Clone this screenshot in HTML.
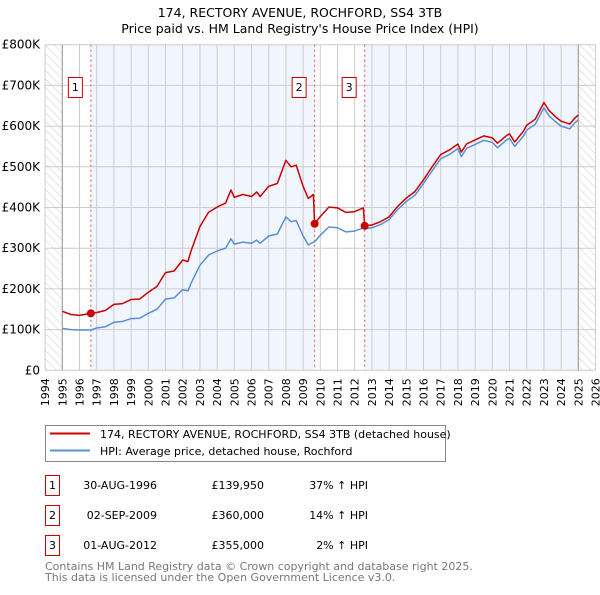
<!DOCTYPE html>
<html><head><meta charset="utf-8"><style>
body{margin:0;background:#fff;}
svg text{font-family:"DejaVu Sans","Liberation Sans",sans-serif;}
</style></head><body>
<svg id="chart" width="600" height="590" viewBox="0 0 600 590" xmlns="http://www.w3.org/2000/svg">
<defs>
<pattern id="hatch" patternUnits="userSpaceOnUse" width="6" height="6" patternTransform="rotate(-45)">
<line x1="0" y1="0" x2="0" y2="6" stroke="#ccc" stroke-width="1"/>
</pattern>
</defs>
<text x="300" y="17" text-anchor="middle" font-size="12.5">174, RECTORY AVENUE, ROCHFORD, SS4 3TB</text>
<text x="300" y="33" text-anchor="middle" font-size="12.5">Price paid vs. HM Land Registry's House Price Index (HPI)</text>
<g id="plot"></g>
<g id="legend">
<rect x="45.5" y="425.5" width="400" height="36" fill="#fff" stroke="#888"/>
<line x1="50" y1="433.5" x2="90" y2="433.5" stroke="#cc0000" stroke-width="2"/>
<text x="100" y="438" font-size="11">174, RECTORY AVENUE, ROCHFORD, SS4 3TB (detached house)</text>
<line x1="50" y1="450.5" x2="90" y2="450.5" stroke="#5b8fd4" stroke-width="2"/>
<text x="100" y="455" font-size="11">HPI: Average price, detached house, Rochford</text>
</g>
<g id="table" font-size="11">
<rect x="45.5" y="475.5" width="14" height="20" fill="#fff" stroke="#c00"/><text x="52.5" y="489" text-anchor="middle">1</text>
<text x="157" y="489" text-anchor="end">30-AUG-1996</text><text x="264" y="489" text-anchor="end">£139,950</text><text x="368" y="489" text-anchor="end">37% ↑ HPI</text>
<rect x="45.5" y="505.5" width="14" height="20" fill="#fff" stroke="#c00"/><text x="52.5" y="519" text-anchor="middle">2</text>
<text x="157" y="519" text-anchor="end">02-SEP-2009</text><text x="264" y="519" text-anchor="end">£360,000</text><text x="368" y="519" text-anchor="end">14% ↑ HPI</text>
<rect x="45.5" y="535.5" width="14" height="20" fill="#fff" stroke="#c00"/><text x="52.5" y="549" text-anchor="middle">3</text>
<text x="157" y="549" text-anchor="end">01-AUG-2012</text><text x="264" y="549" text-anchor="end">£355,000</text><text x="368" y="549" text-anchor="end">2% ↑ HPI</text>
</g>
<text x="45" y="570" font-size="11" fill="#777">Contains HM Land Registry data © Crown copyright and database right 2025.</text>
<text x="45" y="581" font-size="11" fill="#777">This data is licensed under the Open Government Licence v3.0.</text>
</svg>
<script>
const years=[1995,1995.5,1996,1996.66,1997,1997.5,1998,1998.5,1999,1999.5,2000,2000.5,2001,2001.5,2002,2002.3,2002.5,2003,2003.5,2004,2004.5,2004.8,2005,2005.5,2006,2006.3,2006.5,2007,2007.5,2008,2008.3,2008.6,2009,2009.3,2009.6,2009.67,2010,2010.5,2011,2011.5,2012,2012.5,2012.58,2013,2013.5,2014,2014.5,2015,2015.5,2016,2016.5,2017,2017.5,2018,2018.2,2018.5,2019,2019.5,2020,2020.3,2020.8,2021,2021.3,2021.8,2022,2022.5,2023,2023.3,2023.7,2024,2024.5,2024.8,2025];
const hpiValues=[103,100,99,99,104,107,118,120,127,128,140,150,175,178,198,195,215,258,283,293,300,323,310,315,312,320,312,330,335,377,365,368,330,308,315,316,332,352,350,340,342,350,348,350,358,370,395,415,430,459,490,520,530,545,525,545,555,565,560,547,565,570,550,575,590,605,645,625,610,600,593,608,615];
const priceValues=[145,137,135,140,142,147,162,164,174,175,192,206,240,244,271,267,295,353,388,401,411,443,425,432,427,438,427,452,459,516,500,504,452,422,432,360,378,401,399,388,390,399,355,357,365,377,403,423,439,468,500,530,541,556,536,556,566,576,571,558,576,581,561,587,602,617,658,638,622,612,605,620,627];
const saleYears=[1996.66,2009.67,2012.58];
const saleValues=[139.95,360,355];
const saleLabels=["1","2","3"];
const yTicks=[0,100,200,300,400,500,600,700,800];
const yTickLabels=["£0","£100K","£200K","£300K","£400K","£500K","£600K","£700K","£800K"];
const xTicks=[1994,1995,1996,1997,1998,1999,2000,2001,2002,2003,2004,2005,2006,2007,2008,2009,2010,2011,2012,2013,2014,2015,2016,2017,2018,2019,2020,2021,2022,2023,2024,2025,2026];

const L=45.1,R=595.5,T=44.7,B=370.3;
const X=y=>L+(y-1994)/32*(R-L);
const Y=v=>B-v/800*(B-T);
const NS="http://www.w3.org/2000/svg";
const g=document.getElementById('plot');
function mk(tag,attrs,parent){const e=document.createElementNS(NS,tag);for(const k in attrs)e.setAttribute(k,attrs[k]);(parent||g).appendChild(e);return e;}

// backgrounds
let e=mk('rect',{x:L,y:T,width:R-L,height:B-T,fill:'#fff'});


const shade=[[saleYears[0],saleYears[1]],[saleYears[2],2025]];
shade.forEach(s=>{const r=mk('rect',{x:X(s[0]),y:T,width:X(s[1])-X(s[0]),height:B-T,fill:'#eef3fc',opacity:0.8});

});
[[1994,1995],[2025,2026]].forEach(s=>{const r=mk('rect',{x:X(s[0]),y:T,width:X(s[1])-X(s[0]),height:B-T,fill:'url(#hatch)'});

});
// grid
xTicks.forEach((t,i)=>{const l=mk('line',{x1:X(t),x2:X(t),y1:T,y2:B,stroke:'#ccc','stroke-width':1});


const tx=mk('text',{x:0,y:0,'font-size':11,'text-anchor':'end',transform:`translate(${X(t)+4},${B+8}) rotate(-90)`});
tx.textContent=t;

});
yTicks.forEach((t,i)=>{const l=mk('line',{x1:L,x2:R,y1:Y(t),y2:Y(t),stroke:'#ccc','stroke-width':1});


const tx=mk('text',{x:40,y:Y(t)+4,'font-size':12,'text-anchor':'end'});
tx.textContent=yTickLabels[i];

});
[1995,2025].forEach(t=>{const l=mk('line',{x1:X(t),x2:X(t),y1:T,y2:B,stroke:'#999','stroke-width':1});

});
// sale markers
saleYears.forEach((s,i)=>{const l=mk('line',{x1:X(s),x2:X(s),y1:T,y2:B,stroke:'#e05050','stroke-width':1,'stroke-dasharray':'2,3'});


const bx=mk('rect',{x:X(s)-22.5,y:77.5,width:14,height:20,fill:'#fff',stroke:'#c00'});


const tx=mk('text',{x:X(s)-15.5,y:91,'font-size':11,'text-anchor':'middle'});
tx.textContent=saleLabels[i];

});
// lines
const pts=a=>a.map((v,i)=>X(years[i]).toFixed(1)+','+Y(v).toFixed(1)).join(' ');
let p=mk('polyline',{points:pts(hpiValues),fill:'none',stroke:'#5b8fd4','stroke-width':1.5,'stroke-linejoin':'round'});


p=mk('polyline',{points:pts(priceValues),fill:'none',stroke:'#cc0000','stroke-width':1.5,'stroke-linejoin':'round'});


saleYears.forEach((s,i)=>{const c=mk('circle',{cx:X(s),cy:Y(saleValues[i]),r:4,fill:'#cc0000'});

});
</script>
</body></html>
